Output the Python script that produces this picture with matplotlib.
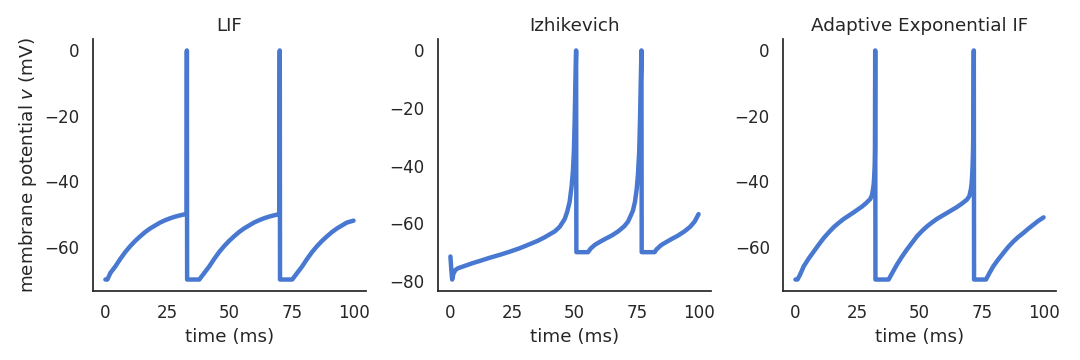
import matplotlib
matplotlib.use("Agg")
import matplotlib.pyplot as plt
import seaborn as sns

# ---- data ----
titles = ["LIF", "Izhikevich", "Adaptive Exponential IF"]

lif_t = [0, 0.8, 2, 4, 6, 8, 10, 12, 14, 16, 18, 20, 22, 24, 26, 28, 30, 32.3, 32.7, 32.8, 32.9,
         37.8, 39.8, 41.8, 43.8, 45.8, 47.8, 49.8, 51.8, 53.8, 55.8, 57.8, 59.8, 61.8, 63.8,
         65.8, 67.8, 70.0, 70.2, 70.3, 75.2, 77.2, 79.2, 81.2, 83.2, 85.2, 87.2, 89.2, 91.2,
         93.2, 95.2, 97.2, 99.9]
lif_v = [-70, -70, -68.0, -66.0, -63.7, -61.6, -59.8, -58.2, -56.8, -55.5, -54.4, -53.5, -52.6,
         -51.9, -51.3, -50.8, -50.4, -50.0, -50.0, 0, -70,
         -70, -68.0, -66.0, -63.7, -61.6, -59.8, -58.2, -56.8, -55.5, -54.4, -53.5, -52.6,
         -51.9, -51.3, -50.8, -50.4, -50.0, 0, -70, -70, -68.0, -66.0, -63.7, -61.6, -59.8,
         -58.2, -56.8, -55.5, -54.4, -53.5, -52.6, -52.0]

izh_t = [0.0, 0.35, 0.7, 1.2, 2.0, 3.0, 5, 8.6, 12, 16, 20, 24, 28, 32, 35.3, 38, 40, 42,
         44, 46, 47, 48, 48.8, 49.3, 49.7, 50.0, 50.3, 50.6, 50.7, 55.4, 56.0, 56.5, 58.1,
         60, 62.1, 65, 67.5, 70, 71.5, 72.5, 73.5, 74.3, 75, 75.5, 76, 76.3, 76.6, 76.9,
         77.0, 82.2, 83, 84.9, 86.9, 88.9, 91.5, 94.2, 96.5, 98.3, 99.9]
izh_v = [-71.5, -76.0, -79.5, -77.5, -76.2, -75.6, -75.0, -73.9, -73.0, -71.9, -70.9, -69.8,
         -68.6, -67.2, -66.0, -64.8, -63.8, -62.8, -61.2, -58.5, -56.0, -52.5, -47.0, -42.0,
         -35.0, -25.0, -12.0, 0.0, -70, -70, -69.3, -68.7, -67.5, -66.5, -65.5, -64.2, -62.8,
         -61.0, -59.4, -57.5, -55.5, -52.5, -48.0, -43.0, -35.0, -25.0, -12.0, 0.0, -70, -70,
         -69.0, -67.5, -66.5, -65.5, -64.3, -62.8, -61.2, -59.4, -56.8]

adex_t = [0, 0.8, 1.8, 3.3, 5.3, 7.4, 9.4, 11.4, 13.4, 15.4, 17.4, 19.4, 21.4, 23.4, 25.1, 26.8,
          28.5, 30.1, 30.8, 31.2, 31.5, 31.7, 31.9, 32.0, 32.1, 32.2,
          37.5, 39.1, 40.8, 42.8, 44.8, 46.9, 48.9, 50.9, 52.9, 54.9, 56.9, 58.9, 60.9, 62.9,
          64.9, 67.0, 69.0, 70.0, 70.6, 70.9, 71.1, 71.3, 71.5, 71.7, 71.8, 71.9,
          76.7, 78.1, 79.6, 81.6, 83.7, 85.7, 87.7, 89.7, 91.7, 93.7, 95.7, 97.7, 99.9]
adex_v = [-70, -70, -68.6, -66.0, -63.6, -61.4, -59.3, -57.3, -55.6, -54.0, -52.7, -51.5, -50.5,
          -49.5, -48.6, -47.7, -46.6, -45.4, -44.2, -42.5, -40.8, -38.5, -35.0, -30.0, 0, -70,
          -70, -67.8, -65.5, -63.1, -60.9, -58.8, -56.8, -55.2, -53.8, -52.6, -51.5, -50.6,
          -49.7, -48.8, -47.9, -46.8, -45.6, -44.5, -42.5, -40.8, -38.5, -35.5, -30.0, -20.0,
          0, -70, -70, -68.0, -66.0, -63.9, -61.9, -60.0, -58.4, -57.0, -55.8, -54.5, -53.3,
          -52.1, -51.0]

series = [(lif_t, lif_v), (izh_t, izh_v), (adex_t, adex_v)]
xticks = [0, 25, 50, 75, 100]
yticks = [[-60, -40, -20, 0], [-80, -60, -40, -20, 0], [-60, -40, -20, 0]]

sns.set_theme(style="white", context="notebook", font_scale=1.1)
color = "#4878D0"

fig, axes = plt.subplots(1, 3, figsize=(10.8, 3.6), dpi=100)
fig.subplots_adjust(left=0.0861, right=0.9778, bottom=0.1917, top=0.8917, wspace=0.264)

for ax, title, (t, v), yt in zip(axes, titles, series, yticks):
    ax.plot(t, v, color=color, lw=3.2, solid_capstyle="round", solid_joinstyle="round")
    ax.set_title(title)
    ax.set_xlabel("time (ms)")
    ax.set_xticks(xticks)
    ax.set_yticks(yt)
    sns.despine(ax=ax)

axes[0].set_ylabel("membrane potential $v$ (mV)")

fig.savefig("out.png", dpi=100)
